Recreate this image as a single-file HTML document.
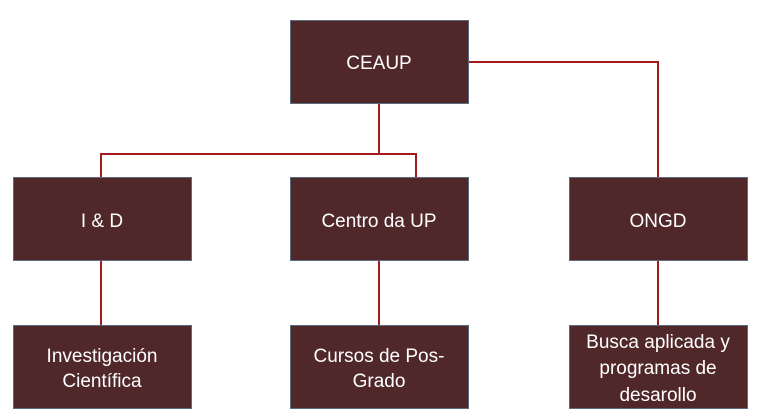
<!DOCTYPE html>
<html><head><meta charset="utf-8"><style>
html,body{margin:0;padding:0;background:#fff;}
svg{display:block;}
text{font-family:"Liberation Sans",sans-serif;font-size:19px;fill:#fff;text-anchor:middle;}
</style></head><body>
<svg width="760" height="416" viewBox="0 0 760 416" xmlns="http://www.w3.org/2000/svg">
<g stroke="#a01a1e" stroke-width="2" fill="none">
<polyline points="469,62 658,62 658,177"/>
<line x1="379" y1="104" x2="379" y2="154"/>
<polyline points="101,177 101,154 416,154 416,177"/>
<line x1="101" y1="261" x2="101" y2="325"/>
<line x1="379" y1="261" x2="379" y2="325"/>
<line x1="658" y1="261" x2="658" y2="325"/>
</g>
<g fill="#512829" stroke="#5c6b82" stroke-width="1">
<rect x="290.5" y="20.5" width="178" height="83"/>
<rect x="13.5" y="177.5" width="178" height="83"/>
<rect x="290.5" y="177.5" width="178" height="83"/>
<rect x="569.5" y="177.5" width="178" height="83"/>
<rect x="13.5" y="325.5" width="178" height="83"/>
<rect x="290.5" y="325.5" width="178" height="83"/>
<rect x="569.5" y="325.5" width="178" height="83"/>
</g>
<text x="379" y="69">CEAUP</text>
<text x="102" y="227">I &amp; D</text>
<text x="379" y="227">Centro da UP</text>
<text x="658" y="227">ONGD</text>
<text x="102" y="362">Investigación</text>
<text x="102" y="387">Científica</text>
<text x="379" y="362">Cursos de Pos-</text>
<text x="379" y="387">Grado</text>
<text x="658" y="348">Busca aplicada y</text>
<text x="658" y="374">programas de</text>
<text x="658" y="401">desarollo</text>
</svg>
</body></html>
